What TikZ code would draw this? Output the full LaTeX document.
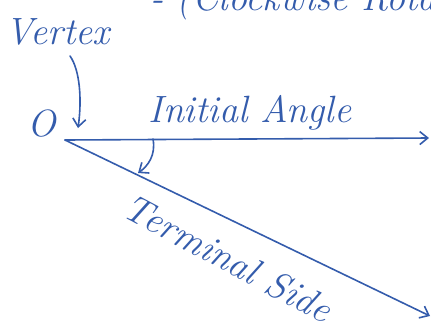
\documentclass[tikz,border=0pt]{standalone}
\usetikzlibrary{arrows.meta}
\definecolor{ink}{RGB}{52,92,172}
\begin{document}
\begin{tikzpicture}[x=1pt,y=-1pt,
  ink/.style={draw=ink,line width=1.6pt,line cap=round},
  barb/.style={-{Straight Barb[length=8pt,width=13pt,line width=1.6pt]}},
  hand/.style={text=ink,inner sep=0pt,font=\itshape\fontsize{38}{42}\selectfont}]
\useasboundingbox (0,0) rectangle (431,325);
\clip (0,0) rectangle (431,325);
% points
\coordinate (V) at (65,140);
\coordinate (A) at (429,138);
\coordinate (T) at (430,316);
\coordinate (a1) at (153,139);
\coordinate (a2) at (138,173);
\coordinate (v1) at (70,56);
\coordinate (v2) at (78,128);
% texts
\node[hand,anchor=base west] (top) at (150,10) {- (Clockwise Rotation)};
\node[hand,anchor=base] (vertex) at (58,44) {Vertex};
\node[hand,anchor=base] (o) at (42,136) {O};
\node[hand,anchor=base] (init) at (250,122) {Initial Angle};
\node[hand,anchor=center,rotate=-28] (term) at (228,258) {Terminal Side};
% lines
\draw[ink,barb] (V) -- (A);
\draw[ink,barb] (V) -- (T);
\draw[ink,barb] (a1) .. controls (156,155) and (148,166) .. (a2);
\draw[ink,barb] (v1) .. controls (80,70) and (82,100) .. (v2);
\end{tikzpicture}
\end{document}
